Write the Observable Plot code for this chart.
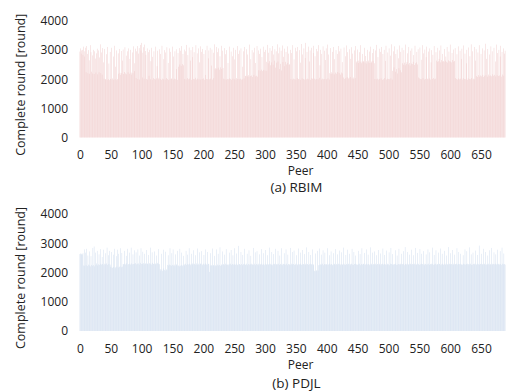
<!DOCTYPE html>
<html>
<head>
<meta charset="utf-8">
<script src="https://cdn.jsdelivr.net/npm/d3@7"></script>
<script src="https://cdn.jsdelivr.net/npm/@observablehq/plot@0.6"></script>
<style>
  html, body { margin: 0; padding: 0; background: #fff; }
  #chart { width: 509px; }
  #chart svg { display: block; }
</style>
</head>
<body>
<div id="chart"></div>
<script>
// ---- data ----
const yTicks = [0, 1000, 2000, 3000, 4000];
const xTicks = [0, 50, 100, 150, 200, 250, 300, 350, 400, 450, 500, 550, 600, 650];
const yTitle = "Complete round [round]";
const xTitle = "Peer";
const captions = ["(a) RBIM", "(b) PDJL"];

const rbim = [
2950,3060,2880,2990,3010,2840,3120,2780,2960,3080, 2240,3140,2870,2210,3000,2650,2190,3170,2930,2260,
2820,2200,3010,2180,2960,2710,2230,2890,3050,2170, 2990,2240,2750,3200,2210,2920,2160,3070,2580,2020,
3040,1990,2010,2860,1980,3110,2000,2540,1970,2940, 2010,3080,1990,2030,2780,1980,3150,2000,2430,2990,
1970,2010,2890,2190,3040,2220,2150,2970,2210,2640, 3020,2180,2250,3100,2200,2810,2170,2960,2240,3060,
2190,2700,3010,2230,2160,2920,2210,3130,2280,2550, 3050,2040,2960,3140,2010,2880,3070,1990,3180,2990,
3250,2060,2910,3100,2020,3190,2970,2840,2010,3060, 1990,2930,2120,3010,2000,2620,3080,1980,2770,2040,
2960,2010,1990,3120,2030,2450,2980,2000,2050,3030, 2010,2870,1980,3150,2020,2000,2690,3000,1990,2920,
2040,3100,2010,2560,1970,3060,2000,2940,2030,2010, 3120,1990,2780,2020,2960,2000,3030,2350,1980,2900,
2430,3070,2510,2980,2460,3140,2520,2870,2480,3020, 2010,2960,1990,3180,2040,2830,2000,3090,2020,2640,
3000,1980,2760,3110,2010,2930,2000,2050,3170,1990, 2890,2020,3060,2000,2580,3130,1990,2940,2010,3040,
2030,2870,1980,3000,2150,2010,3150,2000,2720,2990, 2000,3080,2020,2470,3020,1990,2910,2040,3200,2340,
2380,3110,2360,2930,2400,3060,2330,2790,2410,3150, 2350,2980,2390,2020,3070,2000,2860,1990,3000,2010,
2560,2000,3120,2030,2010,2950,1980,2790,2020,3080, 2000,2680,3010,1990,2040,3140,2010,2870,2000,2990,
2020,3060,1990,2430,2000,2960,2030,3110,2110,2120, 3030,2100,2850,2140,2090,3190,2110,2690,2130,3000,
2080,2920,2150,3080,2100,2560,2120,3140,2090,2990, 2310,2870,2290,3050,2330,2760,2280,3120,2320,2940,
2300,3010,2600,2290,3180,2550,2910,2620,3070,2480, 2980,2580,3140,2500,2850,2640,3030,2400,2960,2570,
3200,2610,2890,2350,3090,2530,2980,2300,3160,2590, 2770,2450,3050,2600,2940,2510,3130,2560,2880,2490,
2520,3010,2010,2900,1990,3170,2020,2680,2000,3080, 1990,2960,2040,3110,2010,2000,3000,2570,1980,3210,
2030,2850,2010,3060,1990,2730,3250,2000,2940,2020, 3120,2000,2610,2990,1980,3080,2040,2010,2900,3150,
2020,2790,1990,3040,2010,2960,2000,3170,2050,2480, 3010,1990,2870,2020,3130,2000,2980,2010,2660,3060,
2000,3190,2030,2850,1990,2210,3070,2180,2240,2940, 2200,3110,2170,2690,2230,3000,2190,2870,2250,3140,
2210,2960,2160,3050,2230,2590,2200,2060,3090,2010, 2790,2040,3160,2070,2930,2020,2050,3030,2080,2700,
3100,2030,2880,2060,2010,2990,2040,3140,2580,2620, 3020,2560,2640,2930,2600,3170,2550,2610,2870,2590,
2630,3080,2570,2800,2620,2540,3010,2580,2640,2950, 2560,3120,2610,2570,2900,2630,3040,2550,2010,2990,
2000,3180,2020,2760,1990,3050,2010,2940,2030,3110, 1980,2870,2000,3010,2040,2630,3150,1990,2020,2920,
2010,3060,2000,2810,2030,3200,1990,2290,2960,2410, 3130,2260,2870,2350,3020,2200,2720,2380,3160,2310,
2940,2240,3080,2550,2500,3000,2570,2480,3190,2530, 2590,2890,2510,3110,2560,2470,2980,2540,3060,2520,
2600,2830,2490,3150,2550,2580,2940,2510,3030,2060, 2030,3090,2010,2670,2000,3170,2040,2890,1990,3020,
2010,2760,3120,2020,2000,2950,2030,3060,1990,2580, 3000,2010,2840,2040,3140,2000,2020,2930,2640,2600,
3080,2620,2700,2990,2580,3160,2660,2610,2870,2630, 2590,3040,2640,2780,2600,3110,2570,2650,2950,2620,
3190,2610,2580,2900,2660,3020,2600,2630,3070,2040, 2010,2860,1990,3130,2030,2000,2980,2020,2700,3050,
1990,2040,3160,2010,2880,2000,2550,3010,1980,2030, 3090,2010,2790,2000,3200,2040,2960,1990,2020,3110,
2000,2640,3030,2110,2080,2920,2140,3170,2090,2130, 2870,2100,3060,2150,2080,2990,2120,3220,2140,2700,
2090,3040,2160,2110,2850,2130,3130,2100,2960,2170, 2120,3080,2150,2610,2100,3190,2140,2900,2110,3010,
2130,2780,3150,2090,2940,2160,3060,2120,2880,2980
];

const pdjl = [
2630,2650,2610,2640,2620,2660,2240,2790,2230,2680, 2250,2810,2220,2580,2270,2240,2720,2210,2560,2260,
2230,2840,2250,2890,2210,2680,2260,2310,2740,2240, 2280,2620,2260,2800,2300,2270,2530,2290,2780,2250,
2300,2660,2280,2310,2850,2260,2590,2290,2740,2270, 2200,2700,2170,2160,2610,2190,2810,2150,2180,2560,
2200,2780,2170,2640,2190,2210,2830,2180,2670,2200, 2290,2280,2740,2300,2270,2570,2310,2810,2260,2290,
2680,2300,2270,2850,2310,2280,2620,2290,2760,2300, 2320,2690,2280,2300,2790,2310,2270,2580,2330,2830,
2290,2300,2710,2320,2280,2640,2310,2300,2770,2290, 2310,2600,2280,2320,2850,2300,2270,2690,2330,2290,
2300,2720,2280,2310,2580,2290,2330,2800,2300,2280, 2120,2070,2640,2100,2050,2780,2140,2090,2060,2710,
2110,2080,2260,2590,2240,2270,2830,2250,2230,2660, 2260,2790,2240,2270,2220,2620,2250,2280,2740,2230,
2240,2210,2810,2230,2250,2680,2220,2260,2570,2240, 2280,2300,2740,2260,2610,2290,2270,2830,2300,2250,
2290,2640,2310,2270,2760,2280,2300,2590,2260,2310, 2270,2820,2300,2260,2690,2290,2310,2730,2280,2250,
2300,2600,2270,2310,2790,2280,2260,2700,2290,2300, 2020,2240,2660,2250,2230,2820,2260,2240,2570,2220,
2250,2790,2230,2270,2640,2240,2260,2860,2230,2250, 2280,2720,2260,2290,2610,2250,2300,2800,2270,2260,
2290,2250,2680,2280,2300,2770,2260,2290,2590,2270, 2280,2830,2260,2300,2650,2270,2250,2910,2290,2280,
2260,2700,2290,2250,2600,2280,2300,2810,2270,2260, 2300,2640,2250,2290,2760,2270,2280,2570,2300,2260,
2280,2840,2260,2300,2690,2250,2290,2730,2270,2300, 2250,2620,2290,2270,2800,2300,2260,2660,2280,2250,
2300,2770,2270,2280,2590,2290,2260,2850,2300,2280, 2270,2700,2250,2290,2630,2280,2300,2810,2260,2290,
2280,2740,2300,2260,2580,2290,2270,2830,2250,2300, 2290,2660,2280,2270,2790,2300,2250,2610,2290,2280,
2270,2840,2260,2300,2700,2280,2290,2750,2260,2270, 2300,2590,2280,2250,2820,2290,2270,2680,2300,2260,
2280,2770,2290,2270,2630,2260,2300,2860,2280,2290, 2260,2700,2280,2300,2600,2270,2290,2790,2250,2280,
2060,2040,2650,2080,2050,2740,2070,2250,2820,2260, 2280,2610,2270,2300,2760,2250,2290,2680,2280,2260,
2290,2830,2260,2280,2590,2300,2270,2720,2290,2250, 2270,2660,2300,2280,2800,2260,2290,2620,2270,2300,
2280,2750,2250,2290,2690,2280,2260,2850,2300,2270, 2260,2600,2290,2270,2780,2300,2280,2640,2250,2290,
2300,2810,2270,2260,2700,2290,2300,2580,2280,2260, 2270,2740,2280,2300,2630,2250,2290,2830,2270,2300,
2290,2670,2260,2280,2790,2300,2270,2610,2290,2250, 2280,2860,2300,2270,2680,2260,2290,2720,2280,2300,
2260,2590,2290,2280,2770,2270,2300,2650,2250,2290, 2300,2820,2270,2290,2600,2280,2260,2750,2300,2270,
2280,2690,2250,2300,2840,2290,2270,2630,2280,2260, 2290,2760,2300,2260,2580,2270,2290,2810,2280,2300,
2270,2640,2290,2280,2730,2300,2250,2870,2290,2270, 2300,2700,2260,2290,2610,2280,2300,2780,2270,2290,
2280,2590,2300,2270,2840,2260,2290,2670,2300,2280, 2260,2800,2280,2300,2640,2290,2270,2730,2250,2300,
2290,2620,2270,2280,2790,2300,2260,2690,2290,2270, 2300,2850,2290,2260,2600,2280,2300,2760,2270,2290,
2270,2680,2300,2290,2820,2250,2280,2640,2300,2260, 2290,2740,2260,2300,2580,2290,2270,2870,2280,2300,
2280,2660,2290,2270,2770,2300,2260,2610,2290,2280, 2300,2830,2270,2290,2700,2280,2300,2640,2260,2290,
2260,2590,2300,2280,2790,2270,2290,2730,2300,2250, 2290,2860,2280,2300,2620,2260,2270,2680,2290,2300,
2270,2750,2290,2260,2600,2300,2280,2920,2270,2290, 2300,2640,2270,2290,2810,2280,2300,2700,2260,2280,
2280,2580,2300,2270,2760,2290,2260,2840,2300,2270, 2290,2690,2280,2300,2620,2270,2290,2780,2280,2300,
2270,2730,2290,2260,2850,2300,2280,2650,2290,2270
];

const colors = ["#eec8c8", "#ccdaed"];
// ---- rendering ----
const font = "'Open Sans', 'DejaVu Sans', sans-serif";

function panel(values, caption, color, opts) {
  const data = values.map((v, i) => ({peer: i, value: v}));
  return Plot.plot({
    width: 509,
    height: 196,
    marginLeft: 79.5,
    marginRight: 3.5,
    marginTop: opts.top,
    marginBottom: opts.bottom,
    style: {fontFamily: font, fontSize: "12px", color: "#222", background: "#fff"},
    x: {type: "band", domain: data.map(d => d.peer), padding: 0.3},
    y: {domain: [0, 4000]},
    marks: [
      Plot.barY(data, {x: "peer", y: "value", fill: color}),
      Plot.axisY({ticks: yTicks, tickFormat: "d", tickSize: 0, tickPadding: 12, label: null, fontSize: 12}),
      Plot.axisX({ticks: xTicks, tickFormat: "d", tickSize: 0, tickPadding: 12.5, label: null, fontSize: 12}),
      Plot.text([yTitle], {text: d => d, frameAnchor: "left", textAnchor: "middle", lineAnchor: "middle", rotate: -90, dx: -59.5, dy: 5, fontSize: 12.5, fill: "#222"}),
      Plot.text([xTitle], {text: d => d, frameAnchor: "bottom", lineAnchor: "middle", dx: 7.5, dy: opts.peerDy, fontSize: 12, fill: "#222"}),
      Plot.text([caption], {text: d => d, frameAnchor: "bottom", lineAnchor: "middle", dx: 3.5, dy: opts.capDy, fontSize: 13.5, fill: "#222"})
    ]
  });
}

const chart = document.getElementById("chart");
chart.append(panel(rbim, captions[0], colors[0], {top: 21, bottom: 58.5, peerDy: 33, capDy: 49.5}));
chart.append(panel(pdjl, captions[1], colors[1], {top: 18, bottom: 61, peerDy: 33.5, capDy: 52.5}));
</script>
</body>
</html>
